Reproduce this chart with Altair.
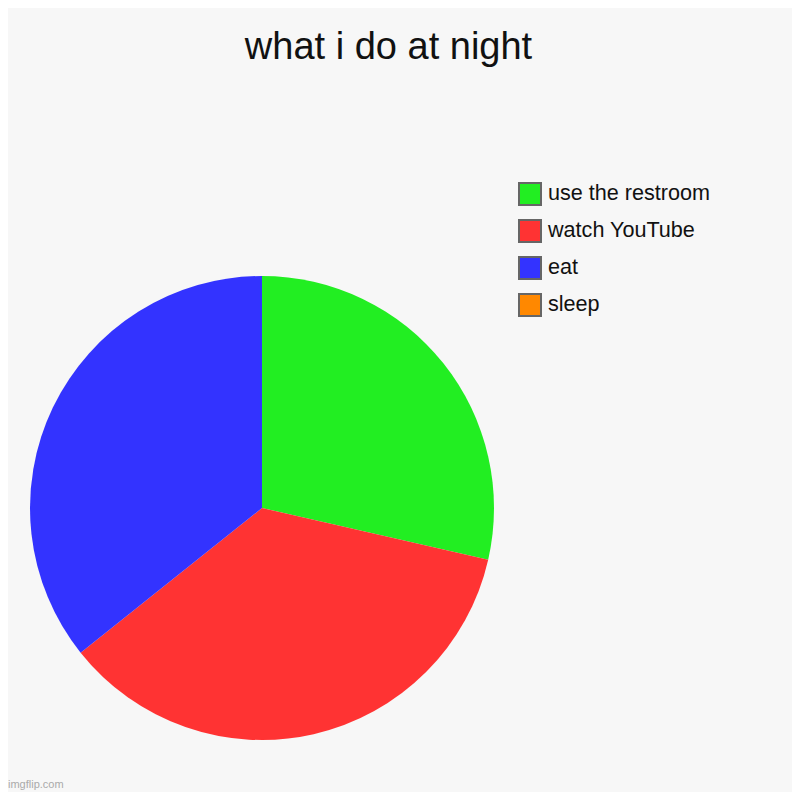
import altair as alt
import pandas as pd

categories = ["use the restroom", "watch YouTube", "eat", "sleep"]
values = [8, 10, 10, 0]
colors = ["#22ee22", "#ff3333", "#3333ff", "#ff8800"]
title_text = "what i do at night"
watermark = "imgflip.com"

df = pd.DataFrame({"activity": categories, "value": values, "idx": list(range(len(categories)))})

pie = alt.Chart(df).mark_arc(stroke=None).encode(
    theta=alt.Theta("value:Q", stack=True),
    order=alt.Order("idx:Q"),
    color=alt.Color(
        "activity:N",
        scale=alt.Scale(domain=categories, range=colors),
        legend=alt.Legend(
            title=None,
            orient="none",
            legendX=510,
            legendY=174,
            symbolType="square",
            symbolSize=484,
            symbolStrokeColor="#666666",
            symbolStrokeWidth=2,
            symbolOpacity=1,
            labelFontSize=21.6,
            labelFont="Liberation Sans",
            labelColor="#111111",
            labelOffset=6,
            rowPadding=7,
            labelLimit=400,
        ),
    ),
    x=alt.value(254),
    y=alt.value(500),
    radius=alt.value(232),
)

title = alt.Chart(pd.DataFrame({"t": [title_text]})).mark_text(
    font="Liberation Sans", fontSize=38, color="#111111", align="center", baseline="alphabetic"
).encode(text="t:N", x=alt.value(380.5), y=alt.value(51))

wm = alt.Chart(pd.DataFrame({"t": [watermark]})).mark_text(
    font="Liberation Sans", fontSize=11, color="#aaaaaa", align="left", baseline="alphabetic"
).encode(text="t:N", x=alt.value(0), y=alt.value(780))

chart = alt.layer(pie, title, wm).properties(
    width=784, height=784, padding=0, autosize=alt.AutoSizeParams(type="none"),
    background="#f7f7f7",
).configure_view(stroke=None)

chart.save("out.html", embed_options={"renderer": "svg", "actions": False})
